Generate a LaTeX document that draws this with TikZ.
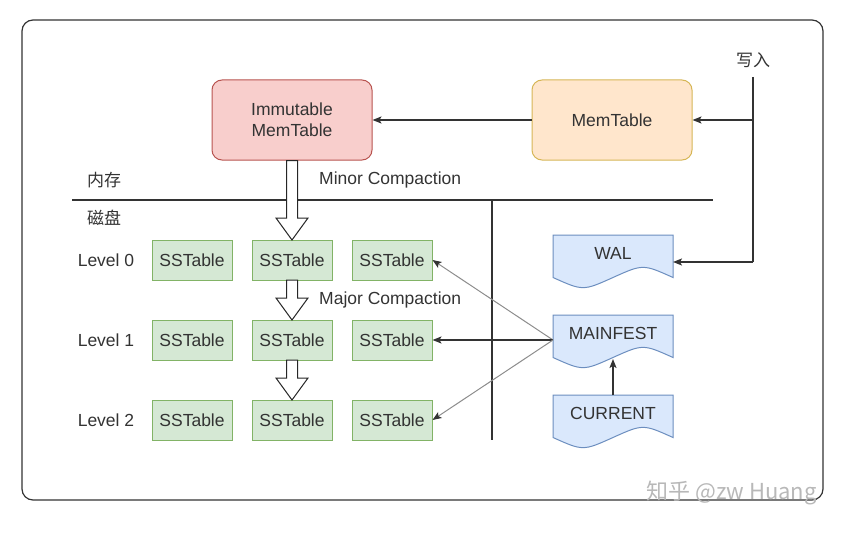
\documentclass[tikz,border=0pt]{standalone}
\usepackage{fontspec}
\setmainfont{Liberation Sans}
\newfontfamily\cjk{Noto Sans CJK SC}
\usetikzlibrary{arrows.meta}
\definecolor{txt}{HTML}{333333}
\definecolor{redfill}{HTML}{F8CECC}
\definecolor{redline}{HTML}{B85450}
\definecolor{orfill}{HTML}{FFE6CC}
\definecolor{orline}{HTML}{D6B656}
\definecolor{grfill}{HTML}{D5E8D4}
\definecolor{grline}{HTML}{82B366}
\definecolor{blfill}{HTML}{DAE8FC}
\definecolor{blline}{HTML}{6C8EBF}
\tikzset{
  lbl/.style={font=\fontsize{17.5}{20}\selectfont, text=txt, inner sep=0pt},
  cjklbl/.style={font=\cjk\fontsize{17}{20}\selectfont, text=txt, inner sep=0pt},
  memt/.style={rounded corners=10pt, minimum width=160pt, minimum height=80pt, align=center, font=\fontsize{17.5}{21}\selectfont, text=txt, line width=1pt},
  sst/.style={draw=grline, fill=grfill, minimum width=80pt, minimum height=40pt, font=\fontsize{17.5}{20}\selectfont, text=txt, line width=1pt, inner sep=0pt},
  conn/.style={line width=1.3pt, draw=black!80, -{Stealth[length=9pt,width=7pt,inset=2pt]}},
  thinconn/.style={line width=1pt, draw=black!45, -{Stealth[length=9pt,width=7pt,inset=2pt,color=black!80]}},
  blockarrow/.style={draw=black!85, fill=white, line width=1pt, line join=miter},
  sep/.style={line width=1.3pt, draw=black!80},
}
\newcommand{\docshape}[3]{% name, x left, y top ; w=120,h=50
  \draw[draw=blline, fill=blfill, line width=1pt]
    (#2,#3) -- (#2+120,#3) -- (#2+120,#3+42.5)
    .. controls (#2+90,#3+29) .. (#2+60,#3+42.5)
    .. controls (#2+30,#3+56) .. (#2,#3+42.5) -- cycle;
  \coordinate (#1) at (#2+60,#3+25);
}
\begin{document}
\begin{tikzpicture}[x=1pt,y=-1pt]
\useasboundingbox (0,0) rectangle (860,535);
% outer frame
\draw[draw=black!80, line width=1.2pt, rounded corners=11pt] (22,20) rectangle (823,500);

% memtables
\node[memt, draw=redline, fill=redfill] (imm) at (292,120) {Immutable\\MemTable};
\node[memt, draw=orline, fill=orfill] (mem) at (612,120) {MemTable};

% write input
\node[cjklbl] (write) at (753,60) {写入};
\coordinate (wtop) at (753,77);
\coordinate (wmid) at (753,120);
\coordinate (wbot) at (753,262);
\draw[sep] (wtop) -- (wbot);
\draw[conn] (wmid) -- (mem.east);
\draw[conn] (mem.west) -- (imm.east);

% separators
\coordinate (hl) at (72,200);
\coordinate (hr) at (713,200);
\coordinate (vt) at (492,200);
\coordinate (vb) at (492,440);
\draw[sep] (hl) -- (hr);
\draw[sep] (vt) -- (vb);

\node[cjklbl] (mem_lbl) at (104,180) {内存};
\node[cjklbl] (disk_lbl) at (104,218) {磁盘};
\node[lbl, anchor=west] (minor) at (319,180) {Minor Compaction};
\node[lbl, anchor=west] (major) at (319,300) {Major Compaction};

% SSTables
\foreach \r/\y in {0/260,1/340,2/420}{
  \node[lbl] (lv\r) at (106,\y) {Level \r};
  \node[sst] (s\r a) at (192,\y) {SSTable};
  \node[sst] (s\r b) at (292,\y) {SSTable};
  \node[sst] (s\r c) at (392,\y) {SSTable};
}

% block arrows
\draw[blockarrow] (286.5,160.5) -- (297.5,160.5) -- (297.5,218) -- (308,218) -- (292,240) -- (276,218) -- (286.5,218) -- cycle;
\draw[blockarrow] (286.5,280) -- (297.5,280) -- (297.5,298) -- (308,298) -- (292,320) -- (276,298) -- (286.5,298) -- cycle;
\draw[blockarrow] (286.5,360) -- (297.5,360) -- (297.5,378) -- (308,378) -- (292,400) -- (276,378) -- (286.5,378) -- cycle;

% documents
\docshape{wal}{553}{235}
\docshape{mf}{553}{315}
\docshape{cur}{553}{395}
\node[lbl] (waltxt) at (613,253) {WAL};
\node[lbl] (mftxt) at (613,333) {MAINFEST};
\node[lbl] (curtxt) at (613,413) {CURRENT};
\coordinate (walE) at (673,262);
\coordinate (mfW) at (553,340);
\coordinate (mfS) at (613,359);
\coordinate (curN) at (613,395);

\draw[conn] (wbot) -- (walE);
\draw[thinconn] (mfW) -- (s0c.east);
\draw[conn] (mfW) -- (s1c.east);
\draw[thinconn] (mfW) -- (s2c.east);
\draw[conn] (curN) -- (mfS);

% watermark
\node[font=\cjk\fontsize{22}{26}\selectfont, text=black!28] (wm) at (731.5,493) {知乎 @zw Huang};
\end{tikzpicture}
\end{document}
